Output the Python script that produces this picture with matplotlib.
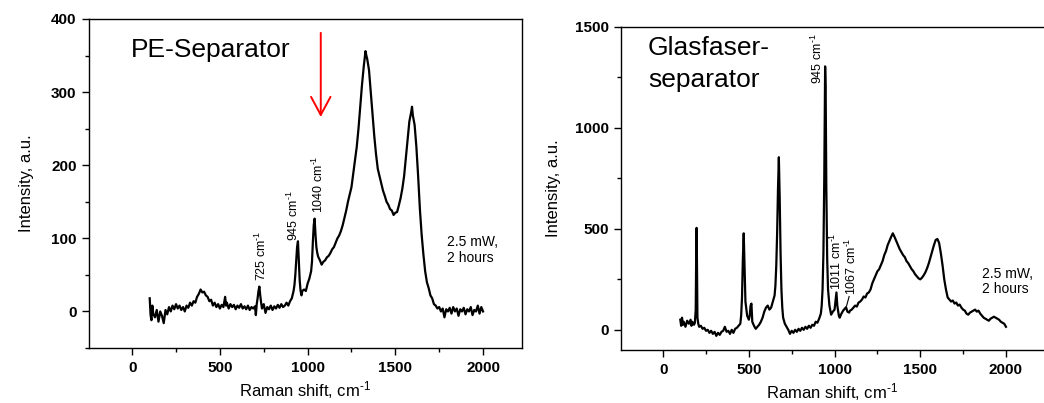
import matplotlib
matplotlib.use("Agg")
from matplotlib import pyplot as plt
from matplotlib.ticker import MultipleLocator

plt.rcParams['font.family'] = ['Liberation Sans', 'DejaVu Sans']
plt.rcParams['mathtext.fontset'] = 'custom'
plt.rcParams['mathtext.rm'] = 'Liberation Sans'
plt.rcParams['mathtext.it'] = 'Liberation Sans:italic'

# PE separator spectrum
x_pe = [100, 105, 110, 115, 120, 130, 140, 150, 160, 170, 180, 190, 200, 210, 220, 230, 240, 250,
        260, 270, 280, 290, 300, 310, 320, 330, 340, 350, 360, 370, 380, 390, 400, 410, 420, 430,
        440, 450, 460, 470, 480, 490, 500, 510, 520, 530, 535, 540, 550, 560, 570, 580, 590, 600,
        610, 620, 630, 640, 650, 660, 670, 680, 690, 700, 705, 710, 715, 720, 725, 730, 735, 740,
        750, 760, 770, 780, 790, 800, 810, 820, 830, 840, 850, 860, 870, 880, 890, 900, 910, 920,
        925, 930, 935, 940, 945, 950, 955, 960, 965, 970, 980, 990, 1000, 1010, 1020, 1025, 1030,
        1035, 1040, 1045, 1050, 1055, 1060, 1070, 1080, 1090, 1100, 1110, 1120, 1130, 1140, 1150,
        1160, 1170, 1180, 1190, 1200, 1210, 1220, 1230, 1240, 1250, 1260, 1270, 1280, 1290, 1300,
        1310, 1320, 1330, 1335, 1340, 1350, 1360, 1370, 1380, 1390, 1400, 1410, 1420, 1430, 1440,
        1450, 1460, 1470, 1480, 1490, 1500, 1510, 1520, 1530, 1540, 1550, 1560, 1570, 1580, 1590,
        1595, 1600, 1610, 1620, 1630, 1640, 1650, 1660, 1670, 1680, 1690, 1700, 1710, 1720, 1730,
        1740, 1750, 1760, 1770, 1780, 1790, 1800, 1810, 1820, 1830, 1840, 1850, 1860, 1870, 1880,
        1890, 1900, 1910, 1920, 1930, 1940, 1950, 1960, 1970, 1980, 1990, 2000]
y_pe = [18, -5, -12, 8, -3, -8, 2, -14, 0, -6, -16, 2, -4, 6, 0, 8, 3, 10,
        4, 8, 2, 6, 0, 8, 5, 12, 8, 14, 12, 20, 24, 30, 26, 27, 22, 20,
        14, 16, 8, 12, 6, 10, 4, 9, 6, 20, 8, 12, 4, 10, 6, 9, 3, 8,
        5, 10, 4, 7, 3, 8, 2, 6, 4, 7, -5, 10, 18, 28, 34, 22, 12, 4,
        10, -2, 6, 3, 8, 2, 7, 4, 9, 5, 10, 6, 8, 12, 8, 14, 18, 28,
        36, 50, 70, 88, 96, 70, 42, 28, 22, 28, 30, 28, 38, 45, 55, 68, 95,
        118, 127, 105, 88, 80, 75, 70, 64, 68, 70, 74, 76, 80, 85, 88,
        94, 100, 104, 110, 118, 128, 138, 150, 160, 170, 188, 205, 225, 250, 280,
        310, 335, 356, 350, 345, 330, 300, 270, 240, 215, 195, 185, 175, 165, 158,
        150, 146, 140, 138, 132, 135, 136, 145, 155, 168, 185, 210, 235, 260, 272,
        280, 268, 255, 225, 185, 140, 105, 78, 55, 40, 32, 22, 18, 10, 8,
        4, 6, 0, 4, -8, 3, 0, 5, -3, 6, 0, 4, -6, 3, 0,
        5, -4, 3, 0, 6, -5, 2, 0, 8, -3, 6, 0]

# glass fibre separator spectrum
x_gf = [100, 105, 110, 115, 120, 130, 140, 150, 160, 165, 170, 180, 185, 190, 193, 195, 197, 200,
        205, 210, 220, 230, 240, 250, 260, 270, 280, 290, 300, 310, 320, 330, 340, 350, 360, 370,
        380, 390, 400, 410, 420, 430, 440, 450, 455, 460, 465, 470, 475, 480, 490, 500, 505, 510,
        515, 520, 530, 540, 550, 560, 570, 580, 590, 600, 610, 620, 630, 640, 650, 655, 660, 665,
        670, 675, 680, 685, 690, 695, 700, 710, 720, 730, 740, 750, 760, 770, 780, 790, 800, 810,
        820, 830, 840, 850, 860, 870, 880, 890, 900, 910, 920, 925, 930, 935, 940, 945, 948, 952,
        957, 962, 970, 980, 990, 1000, 1005, 1011, 1016, 1025, 1030, 1040, 1050, 1060, 1067, 1075,
        1085, 1090, 1100, 1110, 1120, 1130, 1140, 1150, 1160, 1170, 1180, 1190, 1200, 1210, 1220,
        1230, 1240, 1250, 1260, 1270, 1280, 1290, 1300, 1310, 1320, 1330, 1340, 1350, 1360, 1370,
        1380, 1390, 1400, 1410, 1420, 1430, 1440, 1450, 1460, 1470, 1480, 1490, 1500, 1510, 1520,
        1530, 1540, 1550, 1560, 1570, 1580, 1590, 1600, 1610, 1620, 1630, 1640, 1650, 1660, 1670,
        1680, 1690, 1700, 1710, 1720, 1730, 1740, 1750, 1760, 1770, 1780, 1790, 1800, 1810, 1820,
        1830, 1840, 1850, 1860, 1870, 1880, 1890, 1900, 1910, 1920, 1930, 1940, 1950, 1960, 1970,
        1980, 1990, 2000]
y_gf = [50, 20, 60, 25, 40, 15, 45, 30, 50, 20, 40, 25, 35, 100, 400, 505, 350, 60,
        30, 15, 20, 5, 10, -5, 0, -15, -5, -20, -10, -30, -15, -25, -10, -5, 15, -10,
        -5, -20, 0, -15, 5, 10, 20, 30, 70, 160, 350, 478, 300, 140, 70, 50, 70, 120,
        130, 40, 20, 5, 15, 25, 40, 60, 90, 110, 120, 100, 110, 140, 170, 220, 320, 480,
        700, 855, 650, 380, 200, 110, 60, 30, 15, 0, -20, -5, -15, 0, -10, 5, -5, 10,
        0, 15, 5, 20, 10, 25, 20, 40, 35, 55, 80, 120, 200, 380, 750, 1305, 1200, 700,
        350, 200, 120, 75, 90, 100, 140, 185, 120, 70, 60, 80, 95, 105, 112, 90,
        85, 95, 100, 110, 120, 115, 135, 140, 150, 165, 160, 180, 185, 200, 230,
        250, 270, 290, 300, 320, 340, 370, 390, 420, 440, 460, 478, 460, 440, 420,
        400, 385, 370, 360, 340, 330, 315, 300, 290, 275, 265, 255, 250, 258, 270,
        285, 305, 330, 360, 390, 420, 445, 450, 430, 380, 320, 250, 200, 160, 150,
        140, 145, 130, 135, 120, 125, 110, 100, 95, 80, 75, 85, 90, 95, 100,
        90, 95, 80, 70, 60, 55, 50, 45, 55, 60, 65, 60, 55, 50, 40,
        35, 30, 15]

peaks_pe = ['725', '945', '1040']
peaks_gf = ['945', '1011', '1067']

unit = r' cm$^{\text{-}1}$'


def style_axes(ax, ymin, ymax, ymaj, ymin_step):
    ax.set_xlim(-246, 2222)
    ax.set_ylim(ymin, ymax)
    ax.xaxis.set_major_locator(MultipleLocator(500))
    ax.xaxis.set_minor_locator(MultipleLocator(250))
    ax.yaxis.set_major_locator(MultipleLocator(ymaj))
    ax.yaxis.set_minor_locator(MultipleLocator(ymin_step))
    ax.tick_params(which='both', direction='out', top=False, right=False)
    ax.tick_params(which='major', length=5, width=1, labelsize=11, pad=4)
    ax.tick_params(which='minor', length=3, width=1)
    for lab in ax.get_xticklabels() + ax.get_yticklabels():
        lab.set_fontweight('bold')
    for sp in ax.spines.values():
        sp.set_linewidth(1.0)
    ax.set_xlabel('Raman shift,' + unit, fontsize=12, labelpad=3)
    ax.set_ylabel('Intensity, a.u.', fontsize=12, labelpad=12)


fig = plt.figure(figsize=(10.44, 4.03), dpi=100)
ax1 = fig.add_axes([89 / 1044, 1 - 348 / 403, (522 - 89) / 1044, (348 - 19) / 403])
ax2 = fig.add_axes([621 / 1044, 1 - 350 / 403, (1044 - 621) / 1044, (350 - 27) / 403])

# left: PE separator
ax1.plot(x_pe, y_pe, color='black', lw=1.6)
style_axes(ax1, -50, 400, 100, 50)
ax1.text(-10, 348, 'PE-Separator', fontsize=19, va='baseline', ha='left')
ax1.text(1792, 104, '2.5 mW,\n2 hours', fontsize=10, va='top', ha='left', linespacing=1.1)
for lbl, xp, yp in zip(peaks_pe, [735, 917, 1060], [41, 96, 135]):
    ax1.text(xp, yp, lbl + unit, rotation=90, fontsize=9, ha='center', va='bottom')
ax1.annotate('', xy=(1075, 266), xytext=(1075, 381),
             arrowprops=dict(arrowstyle='->,head_length=1.3,head_width=0.7',
                             color='red', lw=1.4, shrinkA=0, shrinkB=0))

# right: glass fibre separator
ax2.plot(x_gf, y_gf, color='black', lw=1.6)
style_axes(ax2, -100, 1500, 500, 250)
ax2.yaxis.labelpad = 10
ax2.spines['right'].set_visible(False)
ax2.text(-88, 1360, 'Glasfaser-', fontsize=19, va='baseline', ha='left')
ax2.text(-88, 1202, 'separator', fontsize=19, va='baseline', ha='left')
ax2.text(1858, 313, '2.5 mW,\n2 hours', fontsize=10, va='top', ha='left', linespacing=1.1)
for lbl, xp, yp in zip(peaks_gf, [901, 1012, 1096], [1217, 198, 173]):
    ax2.text(xp, yp, lbl + unit, rotation=90, fontsize=9, ha='center', va='bottom')
ax2.plot([1085, 1070], [165, 118], color='black', lw=0.8)

fig.savefig('out.png', dpi=100)
